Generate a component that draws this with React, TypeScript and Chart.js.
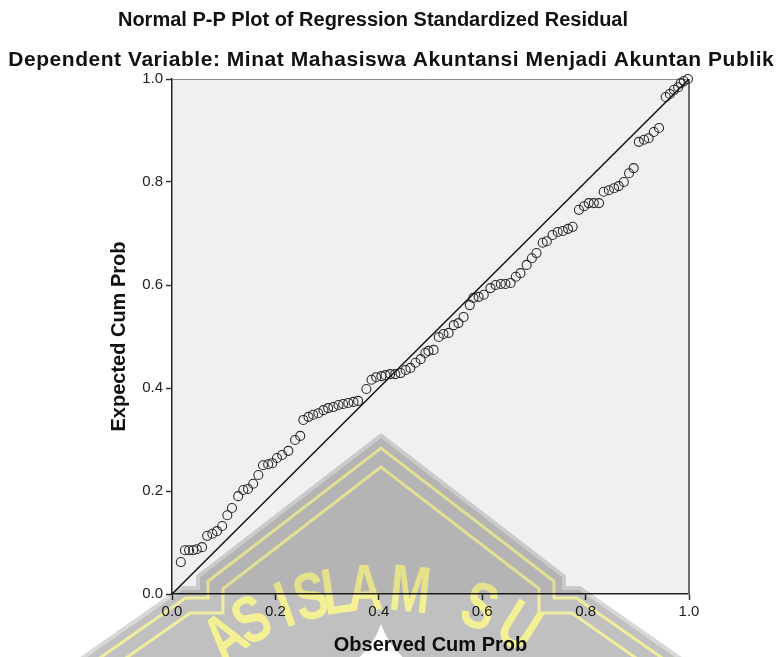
import React, { useEffect, useRef } from "react";
import { Chart, registerables } from "chart.js";

Chart.register(...registerables);

const chartTitle = "Normal P-P Plot of Regression Standardized Residual";
const chartSubtitle = "Dependent Variable: Minat Mahasiswa Akuntansi Menjadi Akuntan Publik";
const xAxisLabel = "Observed Cum Prob";
const yAxisLabel = "Expected Cum Prob";
const tickValues = [0, 0.2, 0.4, 0.6, 0.8, 1.0];
const tickLabels = ["0.0", "0.2", "0.4", "0.6", "0.8", "1.0"];

const observedCumProb = [
  0.017, 0.025, 0.033, 0.041, 0.048, 0.058, 0.068, 0.078, 0.087, 0.097,
  0.107, 0.116, 0.128, 0.138, 0.147, 0.157, 0.167, 0.176, 0.186, 0.194,
  0.203, 0.213, 0.225, 0.238, 0.248, 0.254, 0.264, 0.273, 0.283, 0.293,
  0.302, 0.312, 0.322, 0.331, 0.341, 0.351, 0.36, 0.376, 0.386, 0.395,
  0.405, 0.413, 0.422, 0.432, 0.442, 0.452, 0.461, 0.471, 0.481, 0.49,
  0.496, 0.506, 0.516, 0.525, 0.535, 0.545, 0.554, 0.564, 0.576, 0.583,
  0.593, 0.603, 0.616, 0.626, 0.636, 0.645, 0.655, 0.665, 0.674, 0.686,
  0.696, 0.705, 0.717, 0.725, 0.736, 0.746, 0.756, 0.766, 0.775, 0.787,
  0.797, 0.806, 0.816, 0.826, 0.835, 0.845, 0.855, 0.864, 0.874, 0.884,
  0.893, 0.903, 0.913, 0.922, 0.932, 0.942, 0.955, 0.963, 0.971, 0.979,
  0.984, 0.99, 0.998,
];

const expectedCumProb = [
  0.062, 0.085, 0.085, 0.085, 0.087, 0.091, 0.113, 0.117, 0.122, 0.132,
  0.153, 0.167, 0.19, 0.202, 0.204, 0.214, 0.231, 0.25, 0.252, 0.254,
  0.264, 0.27, 0.278, 0.299, 0.307, 0.338, 0.344, 0.348, 0.351, 0.357,
  0.361, 0.363, 0.367, 0.369, 0.371, 0.373, 0.375, 0.398, 0.416, 0.421,
  0.423, 0.425, 0.427, 0.427, 0.429, 0.435, 0.439, 0.449, 0.456, 0.468,
  0.472, 0.474, 0.499, 0.505, 0.507, 0.522, 0.526, 0.538, 0.561, 0.575,
  0.577, 0.581, 0.594, 0.6, 0.602, 0.602, 0.604, 0.616, 0.623, 0.639,
  0.652, 0.662, 0.682, 0.685, 0.697, 0.703, 0.705, 0.709, 0.713, 0.746,
  0.753, 0.759, 0.759, 0.759, 0.781, 0.784, 0.788, 0.792, 0.8, 0.817,
  0.827, 0.878, 0.882, 0.885, 0.897, 0.905, 0.965, 0.971, 0.979, 0.984,
  0.992, 0.996, 1.0,
];

const diagonalX = [0, 1];
const diagonalY = [0, 1];

const watermarkText = "AS ISLAM SU";

const FONT = '"Liberation Sans", Arial, Helvetica, sans-serif';

function halfShape(s: number, cx: number): number[][] {
  const m = 0.77;
  const c = Math.sqrt(1 + m * m);
  const m2 = 0.7;
  const c2 = Math.sqrt(1 + m2 * m2);
  const peakY = 438 + c * s;
  const nx = 181;
  const bx = cx - nx + s;
  const by = peakY + m * (nx - s);
  const ny = 590 + s;
  const lx = cx - 198;
  const dx = lx + (c2 * s - s) / m2;
  const bottomY = 730;
  const ex = lx - (bottomY - 590 - c2 * s) / m2;
  return [
    [cx, peakY],
    [bx, by],
    [bx, ny],
    [dx, ny],
    [ex, bottomY],
  ];
}

function shapePath(o: CanvasRenderingContext2D, s: number, cx: number) {
  const left = halfShape(s, cx);
  const right = left.map(([x, y]) => [2 * cx - x, y]).reverse();
  const pts = [...left, ...right];
  o.beginPath();
  pts.forEach(([x, y], i) => (i === 0 ? o.moveTo(x, y) : o.lineTo(x, y)));
  o.closePath();
}

function drawWatermark(chart: any) {
  const { ctx, width, height } = chart;
  const off = document.createElement("canvas");
  off.width = width;
  off.height = height;
  const o = off.getContext("2d");
  if (!o) return;
  const cx = 381;
  o.fillStyle = "rgb(216,216,216)";
  shapePath(o, -4, cx);
  o.fill();
  o.fillStyle = "rgb(192,192,192)";
  shapePath(o, 0, cx);
  o.fill();
  o.strokeStyle = "rgb(240,238,158)";
  o.lineWidth = 3;
  o.lineJoin = "miter";
  shapePath(o, 8, cx);
  o.stroke();
  shapePath(o, 23, cx);
  o.stroke();

  // white dome
  o.fillStyle = "#ffffff";
  o.beginPath();
  o.moveTo(381, 624);
  o.quadraticCurveTo(374, 645, 354, 662);
  o.lineTo(408, 662);
  o.quadraticCurveTo(388, 645, 381, 624);
  o.closePath();
  o.fill();

  // letters along an elliptical arc
  o.save();
  o.font = `bold 66px ${FONT}`;
  o.fillStyle = "rgb(244,241,148)";
  o.textAlign = "center";
  o.textBaseline = "alphabetic";
  const ecx = 380;
  const ecy = 760;
  const rx = 200;
  const ry = 150;
  const sx = 0.74;
  const letterX = [238, 262, 0, 292, 316, 340, 366, 408, 0, 472, 508];
  [...watermarkText].forEach((ch, i) => {
    if (ch === " ") return;
    const st = Math.max(-0.99, Math.min(0.99, (letterX[i] - ecx) / rx));
    const t = Math.asin(st);
    const x = ecx + rx * Math.sin(t);
    const y = ecy - ry * Math.cos(t);
    const ang = Math.atan2(ry * Math.sin(t), rx * Math.cos(t));
    o.save();
    o.translate(x, y);
    o.rotate(ang);
    o.scale(sx, 1);
    o.fillText(ch, 0, 0);
    o.restore();
  });
  o.restore();

  ctx.save();
  ctx.globalCompositeOperation = "multiply";
  ctx.drawImage(off, 0, 0);
  ctx.restore();
}

function drawSpacedCentered(ctx: CanvasRenderingContext2D, text: string, x: number, y: number, targetWidth: number) {
  ctx.save();
  const c: any = ctx;
  if ("letterSpacing" in c) c.letterSpacing = "0px";
  const w0 = ctx.measureText(text).width;
  const n = text.length;
  if ("letterSpacing" in c) {
    const sp = (targetWidth - w0) / n;
    c.letterSpacing = `${sp}px`;
    const w1 = ctx.measureText(text).width;
    ctx.textAlign = "left";
    ctx.fillText(text, x - w1 / 2 + sp / 2, y);
  } else {
    ctx.translate(x, y);
    ctx.scale(targetWidth / w0, 1);
    ctx.textAlign = "center";
    ctx.fillText(text, 0, 0);
  }
  ctx.restore();
}

const framePlugin = {
  id: "ppFrame",
  beforeDraw(chart: any) {
    const { ctx, chartArea, width, height } = chart;
    ctx.save();
    ctx.fillStyle = "#ffffff";
    ctx.fillRect(0, 0, width, height);
    ctx.fillStyle = "#f0f0f0";
    ctx.fillRect(chartArea.left, chartArea.top, chartArea.right - chartArea.left, chartArea.bottom - chartArea.top);
    ctx.restore();
  },
  beforeDatasetsDraw(chart: any) {
    const { ctx, chartArea } = chart;
    ctx.save();
    ctx.strokeStyle = "#8a8a8a";
    ctx.lineWidth = 1;
    ctx.beginPath();
    ctx.moveTo(chartArea.left, chartArea.top + 0.5);
    ctx.lineTo(chartArea.right, chartArea.top + 0.5);
    ctx.stroke();
    ctx.strokeStyle = "#6e6e6e";
    ctx.lineWidth = 2;
    ctx.beginPath();
    ctx.moveTo(chartArea.right, chartArea.top);
    ctx.lineTo(chartArea.right, chartArea.bottom);
    ctx.stroke();
    ctx.restore();
  },
  afterDraw(chart: any) {
    const { ctx } = chart;
    ctx.save();
    ctx.fillStyle = "#111111";
    ctx.font = `bold 20px ${FONT}`;
    ctx.textAlign = "center";
    ctx.textBaseline = "middle";
    ctx.fillText(chartTitle, 373, 20);
    ctx.font = `bold 21px ${FONT}`;
    drawSpacedCentered(ctx, chartSubtitle, 391, 60, 766);
    ctx.restore();
    drawWatermark(chart);
  },
};

function axisOptions(label: string, titlePadding: any, fit: (s: any) => void) {
  return {
    type: "linear" as const,
    min: 0,
    max: 1,
    afterBuildTicks: (axis: any) => {
      axis.ticks = tickValues.map((v) => ({ value: v }));
    },
    afterFit: fit,
    ticks: {
      autoSkip: false,
      maxRotation: 0,
      padding: 3,
      color: "#222222",
      font: { family: FONT, size: 15 },
      callback: (v: any) => {
        const i = tickValues.indexOf(Number(v));
        return i >= 0 ? tickLabels[i] : Number(v).toFixed(1);
      },
    },
    grid: {
      display: true,
      drawOnChartArea: false,
      drawTicks: true,
      tickLength: 6,
      tickColor: "#333333",
      tickWidth: 1.5,
    },
    border: { display: true, color: "#222222", width: 1.5 },
    title: {
      display: true,
      text: label,
      color: "#111111",
      font: { family: FONT, size: 20, weight: "bold" as const },
      padding: titlePadding,
    },
  };
}

export default function App() {
  const canvasRef = useRef<HTMLCanvasElement | null>(null);

  useEffect(() => {
    const canvas = canvasRef.current;
    if (!canvas) return;
    const points = observedCumProb.map((x, i) => ({ x, y: expectedCumProb[i] }));
    const diag = diagonalX.map((x, i) => ({ x, y: diagonalY[i] }));
    const chart = new Chart(canvas, {
      type: "scatter",
      data: {
        datasets: [
          {
            label: "Reference",
            data: diag,
            showLine: true,
            borderColor: "#151515",
            borderWidth: 1.5,
            pointRadius: 0,
            fill: false,
          } as any,
          {
            label: "Residuals",
            data: points,
            pointStyle: "circle",
            pointRadius: 4.5,
            pointBorderWidth: 1.1,
            borderColor: "#2a2a2a",
            backgroundColor: "rgba(0,0,0,0)",
            pointBackgroundColor: "rgba(0,0,0,0)",
            clip: false,
          } as any,
        ],
      },
      options: {
        responsive: false,
        animation: false,
        devicePixelRatio: 1,
        layout: { padding: { top: 79, right: 87, left: 0, bottom: 0 } },
        plugins: {
          legend: { display: false },
          tooltip: { enabled: false },
          title: { display: false },
        },
        scales: {
          x: {
            position: "bottom",
            ...axisOptions(xAxisLabel, { top: 0, bottom: 0 }, (s: any) => {
              s.height = 63;
            }),
          },
          y: {
            position: "left",
            ...axisOptions(yAxisLabel, { top: 107, bottom: 0 }, (s: any) => {
              s.width = 172;
            }),
          },
        },
      } as any,
      plugins: [framePlugin],
    });
    return () => chart.destroy();
  }, []);

  return (
    <div style={{ position: "absolute", left: 0, top: 0, width: 776, height: 657, background: "#ffffff" }}>
      <canvas ref={canvasRef} width={776} height={657} style={{ display: "block", width: 776, height: 657 }} />
    </div>
  );
}
